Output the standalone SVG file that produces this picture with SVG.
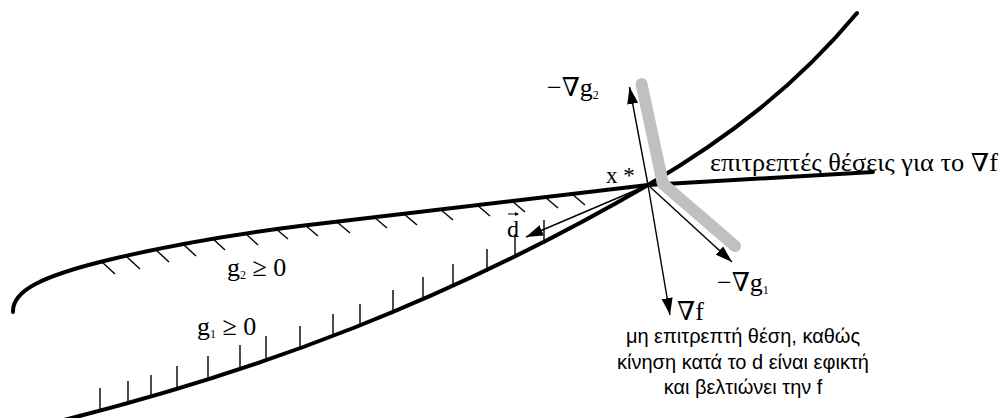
<svg xmlns="http://www.w3.org/2000/svg" width="1001" height="418" viewBox="0 0 1001 418">
<style>
.curve{fill:none;stroke:#000;stroke-width:4;stroke-linecap:round}
.hatch{stroke:#000;stroke-width:1.4;fill:none}
.vec{stroke:#000;stroke-width:1.4;fill:none;marker-end:url(#ah)}
.band{fill:none;stroke:#c0c0c0;stroke-width:12;stroke-linecap:round;stroke-linejoin:round}
.math{font-family:"Liberation Serif","DejaVu Serif",serif;font-size:26px;fill:#000}
.sub{font-size:12px}
.note{font-family:"Liberation Sans","DejaVu Sans",sans-serif;font-size:20px;fill:#000;text-anchor:middle}
</style>
<defs>
<marker id="ah" viewBox="0 0 17 11" refX="17" refY="5.5" markerWidth="17" markerHeight="11" markerUnits="userSpaceOnUse" orient="auto">
<path d="M0,0 L17,5.5 L0,11 z" fill="#000"/>
</marker>
</defs>

<g id="constraint-g2">
<path class="curve" d="M13,312 C12,290 45,276 100,262 C160,247 220,236 300,226 L648,185 L873,172"/>
<g class="hatch">
<line x1="102" y1="262" x2="115" y2="274"/>
<line x1="127" y1="257" x2="140" y2="269"/>
<line x1="156" y1="250" x2="169" y2="262"/>
<line x1="183" y1="244" x2="196" y2="256"/>
<line x1="212" y1="238" x2="225" y2="250"/>
<line x1="245" y1="233" x2="258" y2="245"/>
<line x1="275" y1="228" x2="288" y2="239"/>
<line x1="305" y1="225" x2="318" y2="236"/>
<line x1="337" y1="222" x2="350" y2="233"/>
<line x1="374" y1="217" x2="387" y2="228"/>
<line x1="404" y1="214" x2="417" y2="225"/>
<line x1="440" y1="209" x2="453" y2="220"/>
<line x1="477" y1="205" x2="490" y2="216"/>
<line x1="512" y1="201" x2="525" y2="212"/>
<line x1="545" y1="197" x2="558" y2="208"/>
<line x1="572" y1="194" x2="585" y2="205"/>
</g>
</g>

<g id="constraint-g1">
<path class="curve" d="M60,421 C260,371 448,301 648,185 C728,138 797,85 857,13"/>
<g class="hatch">
<line x1="100" y1="411" x2="100" y2="388"/>
<line x1="128" y1="404" x2="128" y2="381"/>
<line x1="151" y1="398" x2="151" y2="375"/>
<line x1="177" y1="389" x2="177" y2="366"/>
<line x1="208" y1="379" x2="208" y2="356"/>
<line x1="240" y1="368" x2="240" y2="345"/>
<line x1="266" y1="359" x2="266" y2="336"/>
<line x1="300" y1="349" x2="300" y2="326"/>
<line x1="333" y1="337" x2="333" y2="314"/>
<line x1="360" y1="327" x2="360" y2="304"/>
<line x1="393" y1="313" x2="393" y2="290"/>
<line x1="423" y1="300" x2="423" y2="277"/>
<line x1="453" y1="287" x2="453" y2="264"/>
<line x1="487" y1="272" x2="487" y2="249"/>
<line x1="515" y1="258" x2="515" y2="234"/>
<line x1="544" y1="244" x2="544" y2="220"/>
</g>
</g>

<g id="feasible-directions">
<path class="band" d="M641.5,84 L663,184 L735,246"/>
</g>

<g id="connectors">
<line class="vec" x1="648" y1="185" x2="629.5" y2="87"/>
<line class="vec" x1="648" y1="185" x2="732" y2="262"/>
<line class="vec" x1="648" y1="185" x2="670" y2="315"/>
<line class="vec" x1="648" y1="185" x2="526" y2="237"/>
</g>

<g id="labels">
<text class="math" x="547" y="96">−∇g<tspan class="sub" dy="3">2</tspan></text>
<text class="math" x="717" y="291">−∇g<tspan class="sub" dy="3">1</tspan></text>
<text class="math" x="677" y="320">∇f</text>
<text class="math" x="606" y="183" style="font-size:23px">x *</text>
<text class="math" x="710" y="171" style="font-size:25px" textLength="288" lengthAdjust="spacingAndGlyphs">επιτρεπτές θέσεις για το ∇f</text>
<text class="math" x="227" y="276">g<tspan class="sub" dy="3">2</tspan><tspan dy="-3"> ≥ 0</tspan></text>
<text class="math" x="197" y="335">g<tspan class="sub" dy="3">1</tspan><tspan dy="-3"> ≥ 0</tspan></text>
<text class="math" x="507" y="237" style="font-size:24px">d</text>
<line x1="508" y1="214" x2="518" y2="214" stroke="#000" stroke-width="1"/>
<path d="M515,212 L519,214 L515,216 z" fill="#000"/>
<text class="note" x="743" y="343">μη επιτρεπτή θέση, καθώς</text>
<text class="note" x="743" y="369">κίνηση κατά το d είναι εφικτή</text>
<text class="note" x="743" y="394">και βελτιώνει την f</text>
</g>
</svg>
